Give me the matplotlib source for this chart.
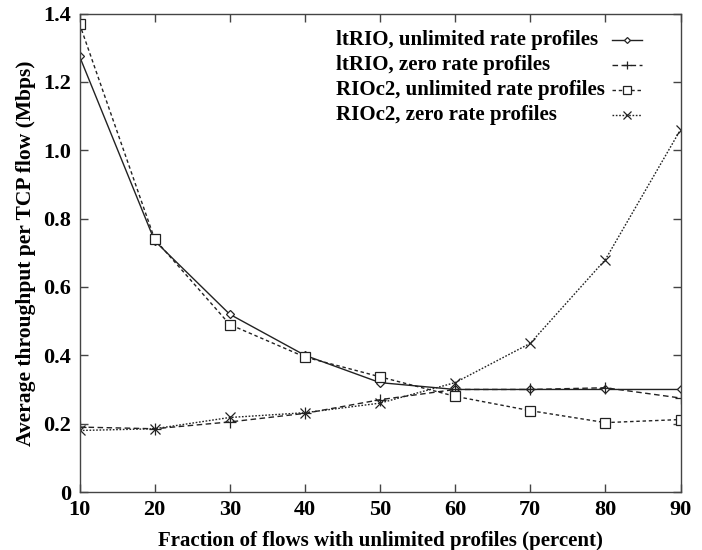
import matplotlib
matplotlib.use("Agg")
import matplotlib.pyplot as plt
from matplotlib.lines import Line2D

# Fraction of flows with unlimited profiles (percent)
fraction = [10, 20, 30, 40, 50, 60, 70, 80, 90]

# Average throughput per TCP flow (Mbps)
ltrio_unlimited = [1.275, 0.735, 0.52, 0.40, 0.32, 0.30, 0.30, 0.30, 0.30]
ltrio_zero = [0.19, 0.185, 0.205, 0.23, 0.27, 0.30, 0.30, 0.305, 0.275]
rioc2_unlimited = [1.37, 0.74, 0.49, 0.395, 0.337, 0.28, 0.238, 0.203, 0.212]
rioc2_zero = [0.18, 0.185, 0.218, 0.232, 0.26, 0.32, 0.435, 0.68, 1.06]

series_labels = [
    "ltRIO, unlimited rate profiles",
    "ltRIO, zero rate profiles",
    "RIOc2, unlimited rate profiles",
    "RIOc2, zero rate profiles",
]
x_ticks = [10, 20, 30, 40, 50, 60, 70, 80, 90]
y_ticks = [0, 0.2, 0.4, 0.6, 0.8, 1.0, 1.2, 1.4]
y_tick_labels = ["0", "0.2", "0.4", "0.6", "0.8", "1.0", "1.2", "1.4"]

plt.rcParams["font.family"] = ["Liberation Serif", "DejaVu Serif"]
plt.rcParams["font.weight"] = "bold"

W, H = 702, 550
fig = plt.figure(figsize=(W / 100, H / 100), dpi=100)
ax = fig.add_axes([79.5 / W, 1 - 492 / H, (680.5 - 79.5) / W, (492 - 13.5) / H])

lc = "#222222"
styles = [
    dict(ls="-", marker="D", ms=4, mfc="white"),
    dict(ls=(0, (4, 2.5)), marker="+", ms=8),
    dict(ls=(0, (2.5, 2)), marker="s", ms=7, mfc="white"),
    dict(ls=(0, (1.2, 1.2)), marker="x", ms=7),
]
series = [ltrio_unlimited, ltrio_zero, rioc2_unlimited, rioc2_zero]

for values, st in zip(series, styles):
    ax.plot(fraction, values, color=lc, lw=1.0, mec=lc, mew=0.9, **st)

ax.set_xlim(10, 90)
ax.set_ylim(0, 1.4)
ax.set_xticks(x_ticks)
ax.set_xticklabels([str(t) for t in x_ticks])
ax.set_yticks(y_ticks)
ax.set_yticklabels(y_tick_labels)

for side in ax.spines.values():
    side.set_color("#444444")
    side.set_linewidth(1.0)
ax.tick_params(direction="in", length=6, width=1.0, color="#444444",
               top=True, right=True, labelsize=16, pad=6)
for lab in ax.get_xticklabels() + ax.get_yticklabels():
    lab.set_fontweight("bold")

ax.set_xlabel("Fraction of flows with unlimited profiles (percent)",
              fontsize=15, fontweight="bold", labelpad=8)
ax.set_ylabel("Average throughput per TCP flow (Mbps)",
              fontsize=15.5, fontweight="bold", labelpad=5)

# Key: left-aligned labels, sample lines in a column on the right
key_text_x = 336
key_line_x0, key_line_x1 = 612, 642
key_rows_y = [40, 65, 90, 115]
for label, st, ry in zip(series_labels, styles, key_rows_y):
    fy = 1 - ry / H
    fig.text(key_text_x / W, fy, label, ha="left", va="center",
             fontsize=15, fontweight="bold")
    fig.add_artist(Line2D([key_line_x0 / W, key_line_x1 / W], [fy, fy],
                          transform=fig.transFigure, color=lc, lw=1.0,
                          ls=st["ls"]))
    mk = {k: v for k, v in st.items() if k not in ("ls", "ms")}
    fig.add_artist(Line2D([(key_line_x0 + key_line_x1) / 2 / W], [fy],
                          transform=fig.transFigure, ls="none", mec=lc,
                          mew=0.9, ms=st["ms"] * 0.75, **mk))

fig.savefig("out.png", dpi=100)
